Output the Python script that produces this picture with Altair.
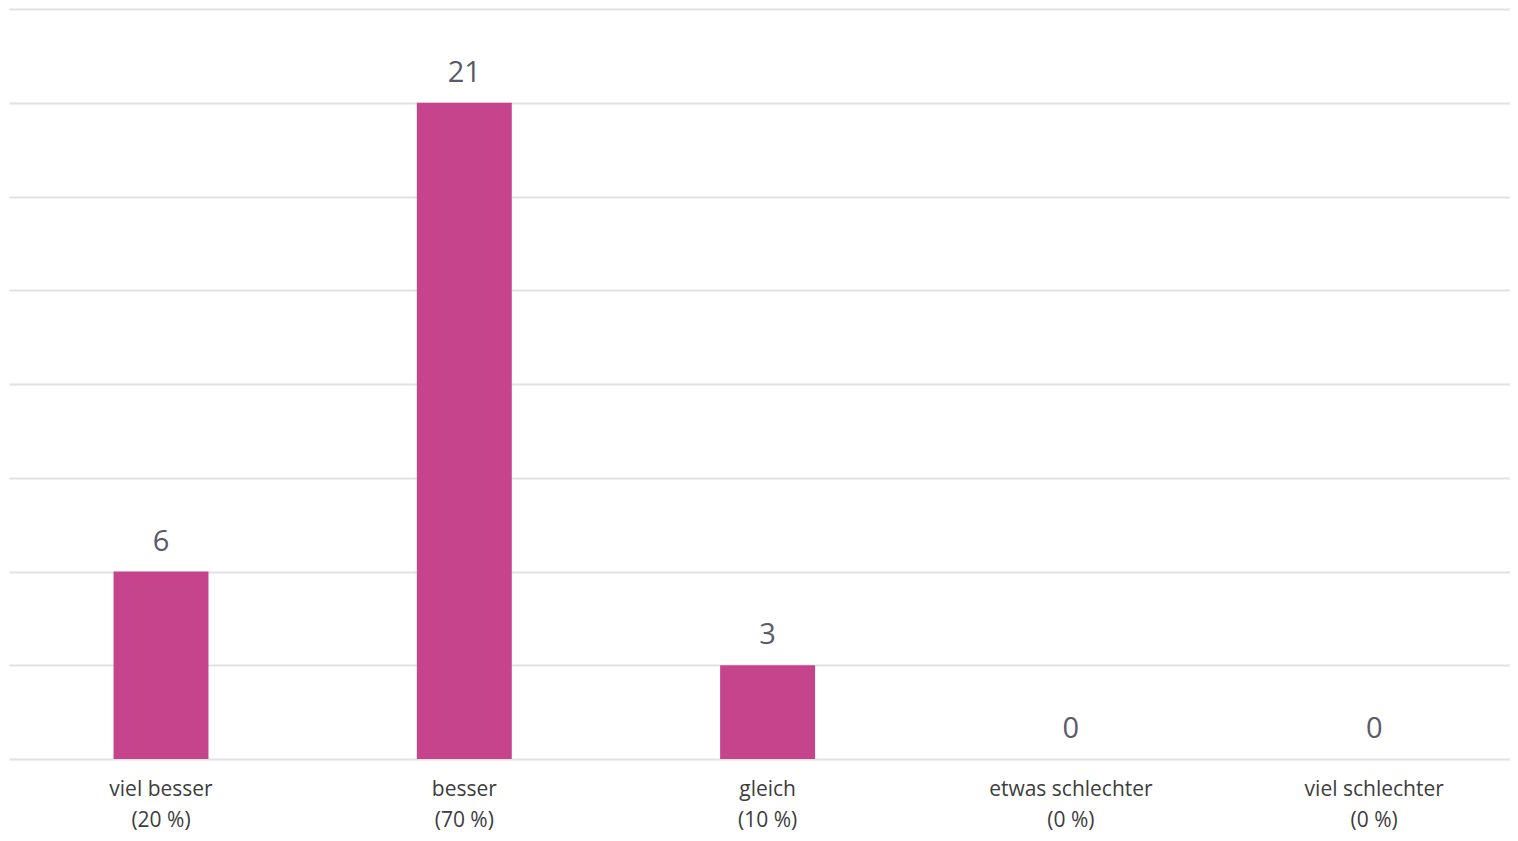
import altair as alt
import pandas as pd

categories = ["viel besser", "besser", "gleich", "etwas schlechter", "viel schlechter"]
percents = ["(20 %)", "(70 %)", "(10 %)", "(0 %)", "(0 %)"]
counts = [6, 21, 3, 0, 0]
y_ticks = [0, 3, 6, 9, 12, 15, 18, 21, 24]

df = pd.DataFrame({
    "cat": [f"{c}\n{p}" for c, p in zip(categories, percents)],
    "count": counts,
})
order = list(df["cat"])

FONT = "Open Sans"

x = alt.X(
    "cat:N",
    sort=order,
    title=None,
    scale=alt.Scale(paddingInner=0.687, paddingOuter=0.318, align=0.542),
    axis=alt.Axis(
        labelAngle=0,
        labelExpr="split(datum.label, '\\n')",
        labelFont=FONT,
        labelFontSize=21,
        labelColor="#3d3d3d",
        labelPadding=19,
        labelLineHeight=31,
        ticks=False,
        domain=False,
        grid=False,
        labelBaseline="top",
    ),
)
y = alt.Y(
    "count:Q",
    title=None,
    scale=alt.Scale(domain=[0, 24], nice=False),
    axis=alt.Axis(
        values=y_ticks,
        labels=False,
        ticks=False,
        domain=False,
        grid=True,
        gridColor="#e2e2e6",
        gridWidth=2,
    ),
)

base = alt.Chart(df)
bars = base.mark_bar(color="#C5448C").encode(x=x, y=y)
labels = base.mark_text(
    baseline="bottom", dy=-15, font=FONT, fontSize=29, color="#5a5a6a"
).encode(x=alt.X("cat:N", sort=order), y="count:Q", text="count:Q")

chart = (
    alt.layer(bars, labels)
    .properties(
        width=1501,
        height=750,
        padding={"left": 1, "top": 1, "right": 0, "bottom": 4},
        background="white",
    )
    .configure_view(stroke=None)
)

chart.save("out.html", embed_options={"renderer": "svg", "actions": False})
